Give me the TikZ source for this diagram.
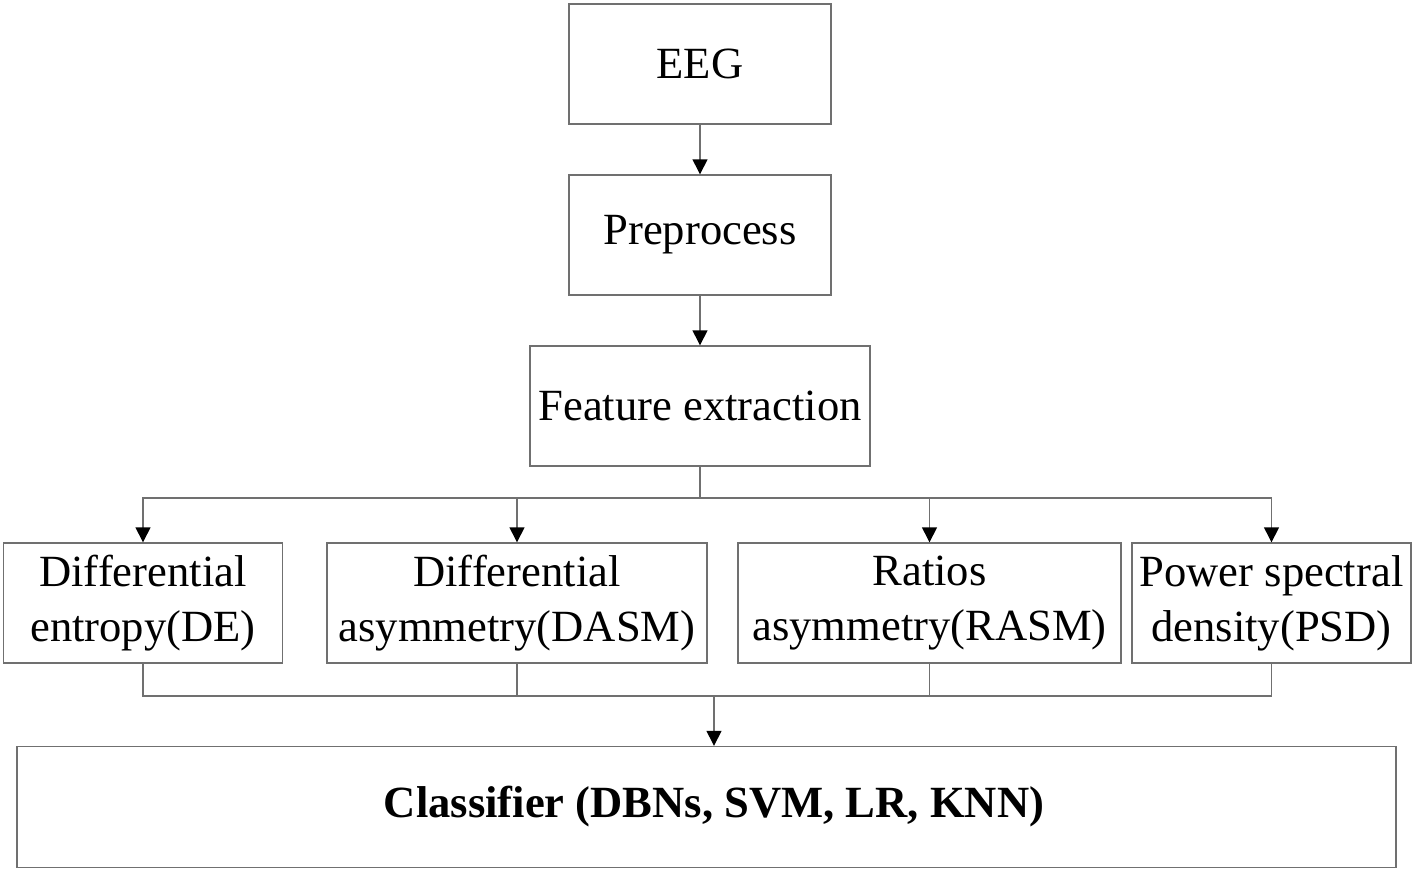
\documentclass[tikz,border=0pt]{standalone}
\usepackage{fontspec}
\setmainfont{Liberation Serif}
\usetikzlibrary{arrows.meta}
\definecolor{linegray}{HTML}{707070}
\begin{document}
\begin{tikzpicture}[x=1pt,y=-1pt,
  box/.style={draw=linegray, line width=1.4pt, fill=white, minimum height=120pt, inner sep=0pt, align=center, font=\fontsize{44.6}{55}\selectfont, text=black},
  conn/.style={draw=linegray, line width=1.4pt},
  arr/.style={conn, -{Triangle[length=15pt,width=15pt,color=black,fill=black]}}]
\useasboundingbox (0,0) rectangle (1418,872);
\node[box, minimum width=262pt] (eeg) at (700,64) {EEG};
\node[box, minimum width=262pt] (pre) at (700,235) {Preprocess};
\node[box, minimum width=340pt] (fe) at (700,406) {Feature extraction};
\node[box, minimum width=279pt] (de) at (143,603) {Differential\\entropy(DE)};
\node[box, minimum width=380pt] (dasm) at (517,603) {Differential\\asymmetry(DASM)};
\node[box, minimum width=383pt] (rasm) at (929.5,603) {Ratios\\asymmetry(RASM)};
\node[box, minimum width=279pt] (psd) at (1271.5,603) {Power spectral\\density(PSD)};
\node[box, minimum width=1379pt, minimum height=121pt, font=\fontsize{44.6}{55}\selectfont\bfseries] (clf) at (706.5,807) {\hspace*{15pt}Classifier (DBNs, SVM, LR, KNN)};
\coordinate (split) at (700,498);
\coordinate (merge) at (714,696);
\draw[arr] (eeg.south) -- (pre.north);
\draw[arr] (pre.south) -- (fe.north);
\draw[conn] (fe.south) -- (split);
\draw[arr] (split) -| (de.north);
\draw[arr] (split) -| (dasm.north);
\draw[arr] (split) -| (rasm.north);
\draw[arr] (split) -| (psd.north);
\draw[conn] (de.south) |- (merge);
\draw[conn] (dasm.south) |- (merge);
\draw[conn] (rasm.south) |- (merge);
\draw[conn] (psd.south) |- (merge);
\draw[arr] (merge) -- (merge |- clf.north);
\end{tikzpicture}
\end{document}
